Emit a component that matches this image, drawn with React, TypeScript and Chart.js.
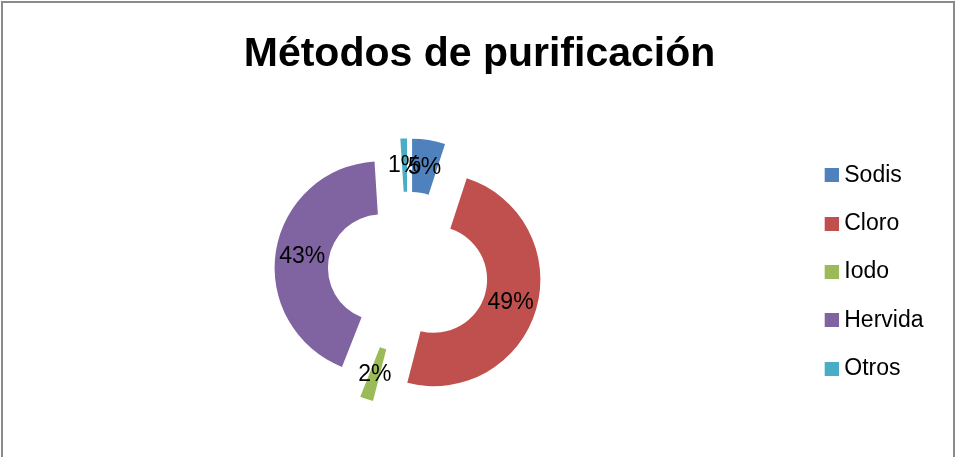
import React, { useEffect, useRef } from "react";
import { Chart, registerables, ArcElement } from "chart.js";

Chart.register(...registerables);

// ---- data ----
const titleText = "Métodos de purificación";
const categories = ["Sodis", "Cloro", "Iodo", "Hervida", "Otros"];
const values = [5, 49, 2, 43, 1];
const colors = ["#4F81BD", "#C0504D", "#9BBB59", "#8064A2", "#4BACC6"];
const explodeOffsets = [27, 27, 27, 27, 27];

const FONT = "'Liberation Sans', Arial, sans-serif";
const LABEL_SIZE = 23;
const LEGEND_BOX_W = 17.2;
const SWATCH = 14;

// Exploded-slice drawing: translate each arc along its mid-angle by its offset
const arcProto: any = ArcElement.prototype;
if (!arcProto.__explodePatched) {
  const origDraw = arcProto.draw;
  arcProto.draw = function (ctx: CanvasRenderingContext2D) {
    const opts = this.options;
    const off = (opts && opts.offset) || 0;
    if (!off) return origDraw.call(this, ctx);
    const half = (this.startAngle + this.endAngle) / 2;
    ctx.save();
    ctx.translate(Math.cos(half) * off, Math.sin(half) * off);
    this.options = Object.assign({}, opts, { offset: 0 });
    try {
      origDraw.call(this, ctx);
    } finally {
      this.options = opts;
      ctx.restore();
    }
  };
  arcProto.__explodePatched = true;
}

function makeSwatch(color: string) {
  const w = Math.round(LEGEND_BOX_W + 12);
  const c = document.createElement("canvas");
  c.width = w;
  c.height = SWATCH;
  const g = c.getContext("2d")!;
  g.fillStyle = color;
  g.fillRect(w - SWATCH, 0, SWATCH, SWATCH);
  return c;
}

const pctLabelPlugin = {
  id: "pctLabels",
  afterDatasetsDraw(chart: any) {
    const meta = chart.getDatasetMeta(0);
    const ds = chart.data.datasets[0];
    const total = (ds.data as number[]).reduce((a, b) => a + b, 0);
    const ctx = chart.ctx as CanvasRenderingContext2D;
    ctx.save();
    ctx.font = `${LABEL_SIZE}px ${FONT}`;
    ctx.fillStyle = "#000000";
    ctx.textAlign = "center";
    ctx.textBaseline = "middle";
    meta.data.forEach((arc: any, i: number) => {
      const half = (arc.startAngle + arc.endAngle) / 2;
      const r = (arc.innerRadius + arc.outerRadius) / 2 + ((arc.options && arc.options.offset) || 0);
      const txt = Math.round((ds.data[i] / total) * 100) + "%";
      ctx.fillText(txt, arc.x + Math.cos(half) * r, arc.y + Math.sin(half) * r + 1);
    });
    ctx.restore();
  },
};

export default function App() {
  const canvasRef = useRef<HTMLCanvasElement | null>(null);

  useEffect(() => {
    if (!canvasRef.current) return;
    const swatches = colors.map(makeSwatch);
    const chart = new Chart(canvasRef.current, {
      type: "doughnut",
      data: {
        labels: categories,
        datasets: [
          {
            data: values,
            backgroundColor: colors,
            borderWidth: 0,
            offset: explodeOffsets,
          } as any,
        ],
      },
      options: {
        responsive: false,
        animation: false,
        devicePixelRatio: 1,
        radius: 106.6,
        cutout: "50%",
        layout: { padding: { left: 25.5, right: 23.5, top: 0, bottom: 35 } },
        plugins: {
          tooltip: { enabled: false },
          title: {
            display: true,
            text: titleText,
            color: "#000000",
            font: { family: FONT, size: 41, weight: "bold" },
            padding: { top: 30.5, bottom: 42.3 },
          },
          legend: {
            position: "right",
            align: "center",
            fullSize: false,
            labels: {
              usePointStyle: true,
              boxWidth: LEGEND_BOX_W,
              padding: 25.3,
              color: "#000000",
              font: { family: FONT, size: LABEL_SIZE },
              generateLabels: () =>
                categories.map((t, i) => ({
                  text: t,
                  fillStyle: colors[i],
                  strokeStyle: colors[i],
                  lineWidth: 0,
                  pointStyle: swatches[i],
                  hidden: false,
                  index: i,
                  fontColor: "#000000",
                })),
            },
          },
        },
      } as any,
      plugins: [pctLabelPlugin],
    });
    return () => chart.destroy();
  }, []);

  return (
    <div
      style={{
        position: "fixed",
        left: 0,
        top: 0,
        width: 957,
        height: 457,
        overflow: "hidden",
        background: "#ffffff",
      }}
    >
      <canvas ref={canvasRef} width={957} height={457} style={{ display: "block", position: "absolute", left: 0, top: 0 }} />
      <div
        style={{
          position: "absolute",
          left: 1,
          top: 1,
          width: 950,
          height: 480,
          border: "2px solid #8a8a8a",
          pointerEvents: "none",
        }}
      />
    </div>
  );
}
